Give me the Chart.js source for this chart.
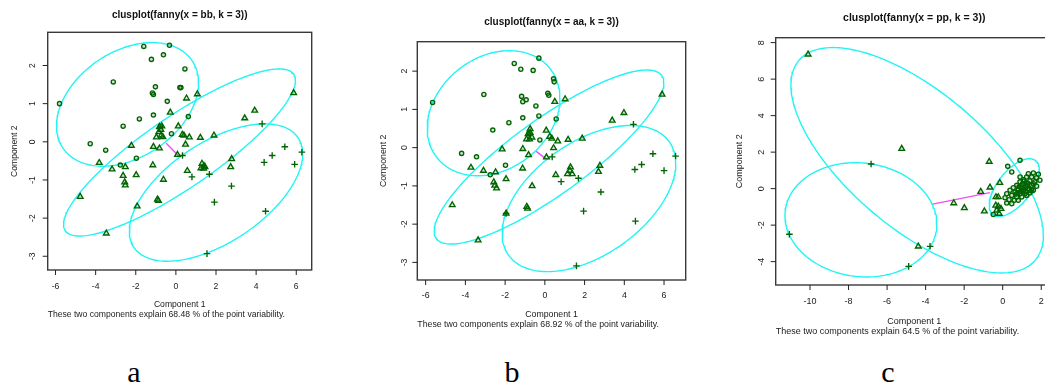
<!DOCTYPE html>
<html>
<head>
<meta charset="utf-8">
<script src="https://cdn.jsdelivr.net/npm/chart.js@4"></script>
<style>
  html, body { margin: 0; padding: 0; background: #fff; overflow: hidden; width: 1045px; height: 385px; }
  canvas { position: absolute; top: 0; }
  .tag { position: absolute; top: 357px; font-family: "Liberation Serif", "Times New Roman", serif; font-size: 30px; line-height: 1; color: #000; transform: translateX(-50%); }
</style>
</head>
<body>
<canvas id="chartA" width="345" height="345" style="left:0px"></canvas>
<canvas id="chartB" width="350" height="345" style="left:345px"></canvas>
<canvas id="chartC" width="410" height="345" style="left:690px"></canvas>
<div class="tag" style="left:134px">a</div>
<div class="tag" style="left:512px">b</div>
<div class="tag" style="left:888px">c</div>
<script>
// ---- panel a : clusplot(fanny(x = bb, k = 3)) ----
var bbCircles = [[-1.6,2.5],[-0.32,2.53],[-0.62,2.28],[-1.22,2.16],[0.45,1.91],[-3.12,1.57],[-1.02,1.44],[0.2,1.42],[0.25,1.42],
  [-1.17,1.28],[-1.12,1.24],[-0.43,1.06],[-5.8,1.0],[-1.12,0.7],[0.62,0.66],[-1.82,0.6],[-2.63,0.41],[-0.77,0.41],[-0.22,0.21],
  [-4.27,-0.05],[-3.5,-0.22],[-1.97,-0.43],[-2.77,-0.61]];
var bbTriangles = [[5.87,1.28],[1.07,1.25],[0.53,1.14],[-0.28,0.77],[3.93,0.82],[3.43,0.62],[0.12,0.41],[-0.82,0.39],[-0.7,0.41],
  [-0.75,0.32],[-0.85,0.26],[-0.73,0.17],[-0.97,0.12],[-0.65,0.13],[0.32,0.19],[0.4,0.17],[0.67,0.12],[1.22,0.11],[1.9,0.17],
  [-2.22,-0.1],[-1.12,-0.13],[-0.82,-0.17],[0.48,-0.07],[0.08,-0.34],[-3.82,-0.55],[-3.18,-0.72],[-2.52,-0.66],[-2.63,-0.89],
  [-1.98,-0.87],[-1.15,-0.61],[-2.55,-1.06],[-2.52,-1.14],[-0.62,-0.99],[0.57,-0.76],[1.3,-0.57],[1.4,-0.63],[1.25,-0.69],
  [1.38,-0.7],[1.45,-0.66],[2.78,-0.45],[2.73,-0.66],[-4.77,-1.44],[-1.93,-1.69],[-0.92,-1.51],[-0.87,-1.54],[-3.47,-2.4]];
var bbCrosses = [[4.3,0.47],[5.43,-0.13],[6.28,-0.27],[4.8,-0.36],[4.4,-0.54],[5.92,-0.59],[0.33,-0.36],[1.67,-0.85],[0.8,-0.92],
  [2.77,-1.16],[1.92,-1.58],[4.47,-1.82],[1.55,-2.93]];
// cluster ellipses: centre x, centre y, sd x, sd y, covariance
var bbEllipses = [[-2.41,0.98,3.54,1.62,2.0],[0.18,-0.28,5.78,2.19,10.9],[2.0,-1.33,4.32,1.8,4.37]];
var bbLink = [[-0.48,-0.04],[0.18,-0.39]];
var bbTicksX = [-6,-4,-2,0,2,4,6];
var bbTicksY = [-3,-2,-1,0,1,2];
var bbVariability = 68.48;

// ---- panel b : clusplot(fanny(x = aa, k = 3)) ----
var aaCircles = [[-0.3,2.34],[-1.54,2.2],[-1.21,2.05],[-0.59,2.02],[0.44,1.8],[0.47,1.72],[-3.07,1.39],[-5.65,1.18],[0.15,1.42],
  [0.2,1.37],[-1.17,1.34],[-0.94,1.25],[-1.11,1.2],[-0.45,1.09],[-1.11,0.78],[-0.3,0.83],[0.57,0.75],[-1.81,0.65],[-2.62,0.46],
  [-0.25,0.2],[-4.19,-0.15],[-3.44,-0.24],[-1.98,-0.46],[-2.75,-0.71],[-0.8,0.37]];
var aaTriangles = [[5.9,1.39],[1.02,1.27],[0.5,1.2],[3.98,0.91],[3.39,0.71],[-0.74,0.49],[-0.84,0.36],[-0.65,0.27],[-0.92,0.22],
  [-0.77,0.22],[-0.74,0.39],[0.07,0.45],[0.25,0.29],[0.35,0.24],[0.65,0.17],[1.17,0.21],[1.88,0.24],[-2.15,-0.04],[-1.11,-0.03],
  [0.44,-0.01],[-0.82,-0.19],[0.08,-0.25],[-3.72,-0.52],[-3.09,-0.6],[-2.48,-0.64],[-1.12,-0.54],[-1.95,-0.82],[-2.57,-0.9],
  [-2.52,-0.99],[-2.43,-1.06],[-0.64,-1.0],[0.55,-0.71],[1.29,-0.51],[1.26,-0.6],[1.14,-0.69],[1.38,-0.69],[2.77,-0.47],
  [2.7,-0.63],[-4.66,-1.5],[-1.95,-1.72],[-0.91,-1.54],[-0.87,-1.59],[-3.36,-2.42]];
var aaCrosses = [[4.46,0.61],[5.44,-0.16],[6.58,-0.22],[4.87,-0.44],[4.53,-0.57],[6.0,-0.6],[0.37,-0.24],[1.69,-0.8],[0.82,-0.89],
  [2.82,-1.16],[1.95,-1.66],[4.56,-1.92],[1.59,-3.09],[-1.95,-1.72]];
var aaEllipses = [[-2.58,0.9,3.34,1.635,1.3],[0.21,-0.245,5.78,2.275,11.2],[2.22,-1.33,4.37,1.91,4.0]];
var aaLink = [[-0.45,-0.09],[0.12,-0.32]];
var aaTicksX = [-6,-4,-2,0,2,4,6];
var aaTicksY = [-3,-2,-1,0,1,2];
var aaVariability = 68.92;

// ---- panel c : clusplot(fanny(x = pp, k = 3)) ----
var ppCircles = [[0.9,1.55],[0.26,1.22],[0.47,0.91],[-0.49,-1.42],[1.33,0.82],[1.59,0.86],[1.85,0.79],[1.76,0.6],[1.5,0.64],
  [1.24,0.64],[1.07,0.49],[1.41,0.42],[1.67,0.37],[1.93,0.46],[0.9,0.37],[1.16,0.27],[1.5,0.18],[1.76,0.13],[0.73,0.18],
  [0.99,0.09],[1.33,0],[1.59,-0.09],[0.55,0.05],[0.81,-0.06],[1.07,-0.13],[1.41,-0.24],[0.38,-0.09],[0.64,-0.19],[0.9,-0.28],
  [1.16,-0.28],[0.21,-0.28],[0.47,-0.37],[0.73,-0.46],[0.99,-0.46],[0.12,-0.5],[0.33,-0.61],[0.6,-0.64],[0.21,-0.79],
  [0.47,-0.83],[0.81,-0.64],[1.24,-0.37],[1.59,0.27],[0.9,0.64],[1.29,0.15],[1.03,0.26],[0.79,-0.22],[1.5,-0.05],[1.12,0.42],
  [1.0,0.0],[1.2,0.1],[0.85,0.1],[1.1,-0.05],[0.95,-0.15],[1.3,0.3],[0.7,-0.3],[1.2,-0.15]];
var ppTriangles = [[-10.1,7.36],[-5.24,2.19],[-4.38,-3.16],[-2.54,-0.79],[-1.99,-1.06],[-1.14,-0.17],[-0.95,-1.24],[-0.7,1.48],
  [-0.66,0.07],[-0.15,0.32],[-0.35,-0.46],[-0.23,-0.46],[-0.36,-0.92],[-0.23,-0.97],[-0.09,-1.1],[-0.31,-1.19],[-0.18,-1.37],
  [1.45,-0.12]];
var ppCrosses = [[-6.83,1.35],[-11.07,-2.5],[-3.77,-3.16],[-4.88,-4.26]];
var ppEllipses = [[-4.44,1.555,6.55,6.175,-27],[-7.36,-1.71,3.94,3.13,-0.9],[0.6,0.06,1.3,1.58,1.25]];
var ppLink = [[-3.69,-0.86],[-0.66,-0.22]];
var ppTicksX = [-10,-8,-6,-4,-2,0,2];
var ppTicksY = [-4,-2,0,2,4,6,8];
var ppVariability = 64.5;


// Page layout of each panel (canvas offsets, plot box, axis range, text placement)
var panels = {
    a: { canvasLeft: 0, canvasW: 345, box: [47.7, 32.3, 311.7, 270], xr: [-6.39, 6.77], yr: [-3.36, 2.87],
         titleY: 15.7, tickY: 16.7, xlabY: 35, subY: 45, ytickX: 14.7, ylabX: 32.7, titleSize: 10, textSize: 8.6 },
    b: { canvasLeft: 345, canvasW: 350, box: [417.3, 41.7, 685.7, 280], xr: [-6.42, 7.09], yr: [-3.46, 2.77],
         titleY: 22.5, tickY: 16, xlabY: 35, subY: 45, ytickX: 12.3, ylabX: 34, titleSize: 10, textSize: 8.75 },
    c: { canvasLeft: 690, canvasW: 410, box: [775.7, 37.7, 1052.8, 285], xr: [-11.78, 2.6], yr: [-5.28, 8.27],
         titleY: 18, tickY: 16.7, xlabY: 37, subY: 47, ytickX: 14, ylabX: 35.7, titleSize: 10.5, textSize: 9 }
};

var FONT = '"Liberation Sans", Arial, sans-serif';
var GREEN = '#006400';


var controller = {
    toXY: function(pairs) {
        return pairs.map(function(p) { return {x: p[0], y: p[1]}; });
    },
    // Outline of a cluster ellipse from its centre and covariance
    ellipse: function(e) {
        var cx = e[0], cy = e[1], sx = e[2], sy = e[3], cov = e[4];
        var l21 = cov / sx;
        var l22 = Math.sqrt(sy * sy - l21 * l21);
        var pts = [];
        for (var i = 0; i <= 180; i++) {
            var t = i / 180 * 2 * Math.PI;
            pts.push({x: cx + sx * Math.cos(t), y: cy + l21 * Math.cos(t) + l22 * Math.sin(t)});
        }
        return pts;
    },
    pointSet: function(pairs, style, radius) {
        return {
            data: controller.toXY(pairs),
            showLine: false,
            pointStyle: style,
            pointRadius: radius,
            pointBorderWidth: 1.35,
            borderColor: GREEN,
            backgroundColor: 'rgba(0,100,0,0.18)'
        };
    },
    // Draws the R style frame: box, ticks, tick labels, titles
    framePlugin: function(p, title, ticksX, ticksY, variability) {
        return {
            id: 'clusFrame',
            afterDraw: function(chart) {
                var ctx = chart.ctx, a = chart.chartArea;
                var xs = chart.scales.x, ys = chart.scales.y;
                ctx.save();
                ctx.strokeStyle = '#3a3a3a';
                ctx.lineWidth = 1.4;
                ctx.strokeRect(a.left, a.top, a.right - a.left, a.bottom - a.top);

                ctx.fillStyle = '#1a1a1a';
                ctx.font = p.textSize + 'px ' + FONT;
                ctx.textAlign = 'center';
                ctx.textBaseline = 'middle';
                ctx.lineWidth = 1;
                ctx.strokeStyle = '#222';
                ticksX.forEach(function(v) {
                    var px = xs.getPixelForValue(v);
                    ctx.beginPath(); ctx.moveTo(px, a.bottom); ctx.lineTo(px, a.bottom + 5); ctx.stroke();
                    ctx.fillText(String(v), px, a.bottom + p.tickY);
                });
                ticksY.forEach(function(v) {
                    var py = ys.getPixelForValue(v);
                    ctx.beginPath(); ctx.moveTo(a.left - 5, py); ctx.lineTo(a.left, py); ctx.stroke();
                    ctx.save();
                    ctx.translate(a.left - p.ytickX, py);
                    ctx.rotate(-Math.PI / 2);
                    ctx.fillText(String(v), 0, 0);
                    ctx.restore();
                });

                var mid = (a.left + a.right) / 2;
                ctx.fillText('Component 1', mid, a.bottom + p.xlabY);
                ctx.textAlign = 'left';
                ctx.fillText('These two components explain ' + variability + ' % of the point variability.', a.left, a.bottom + p.subY);
                ctx.textAlign = 'center';
                ctx.save();
                ctx.translate(a.left - p.ylabX, (a.top + a.bottom) / 2);
                ctx.rotate(-Math.PI / 2);
                ctx.fillText('Component 2', 0, 0);
                ctx.restore();

                ctx.font = 'bold ' + p.titleSize + 'px ' + FONT;
                ctx.fillStyle = '#111';
                ctx.fillText(title, mid, p.titleY);
                ctx.restore();
            }
        };
    },
    makeChart: function(id, p, title, circles, triangles, crosses, ellipses, link, ticksX, ticksY, variability) {
        var sets = [];
        sets.push(controller.pointSet(circles, 'circle', 2.1));
        sets.push(controller.pointSet(triangles, 'triangle', 3.3));
        sets.push(controller.pointSet(crosses, 'cross', 3.3));
        ellipses.forEach(function(e) {
            sets.push({data: controller.ellipse(e), showLine: true, pointRadius: 0, borderColor: '#22f4f4', borderWidth: 1.4, fill: false});
        });
        sets.push({data: controller.toXY(link), showLine: true, pointRadius: 0, borderColor: '#f050f0', borderWidth: 1.4});

        var ctx = document.getElementById(id).getContext('2d');
        return new Chart(ctx, {
            type: 'scatter',
            data: { datasets: sets },
            options: {
                responsive: false,
                animation: false,
                devicePixelRatio: 1,
                events: [],
                layout: {
                    padding: {
                        left: p.box[0] - p.canvasLeft,
                        top: p.box[1],
                        right: p.canvasLeft + p.canvasW - p.box[2],
                        bottom: 345 - p.box[3]
                    }
                },
                scales: {
                    x: { type: 'linear', min: p.xr[0], max: p.xr[1], display: false },
                    y: { type: 'linear', min: p.yr[0], max: p.yr[1], display: false }
                },
                plugins: { legend: { display: false }, tooltip: { enabled: false } }
            },
            plugins: [controller.framePlugin(p, title, ticksX, ticksY, variability)]
        });
    }
};

controller.makeChart('chartA', panels.a, 'clusplot(fanny(x = bb, k = 3))', bbCircles, bbTriangles, bbCrosses, bbEllipses, bbLink, bbTicksX, bbTicksY, bbVariability);
controller.makeChart('chartB', panels.b, 'clusplot(fanny(x = aa, k = 3))', aaCircles, aaTriangles, aaCrosses, aaEllipses, aaLink, aaTicksX, aaTicksY, aaVariability);
controller.makeChart('chartC', panels.c, 'clusplot(fanny(x = pp, k = 3))', ppCircles, ppTriangles, ppCrosses, ppEllipses, ppLink, ppTicksX, ppTicksY, ppVariability);
</script>
</body>
</html>
